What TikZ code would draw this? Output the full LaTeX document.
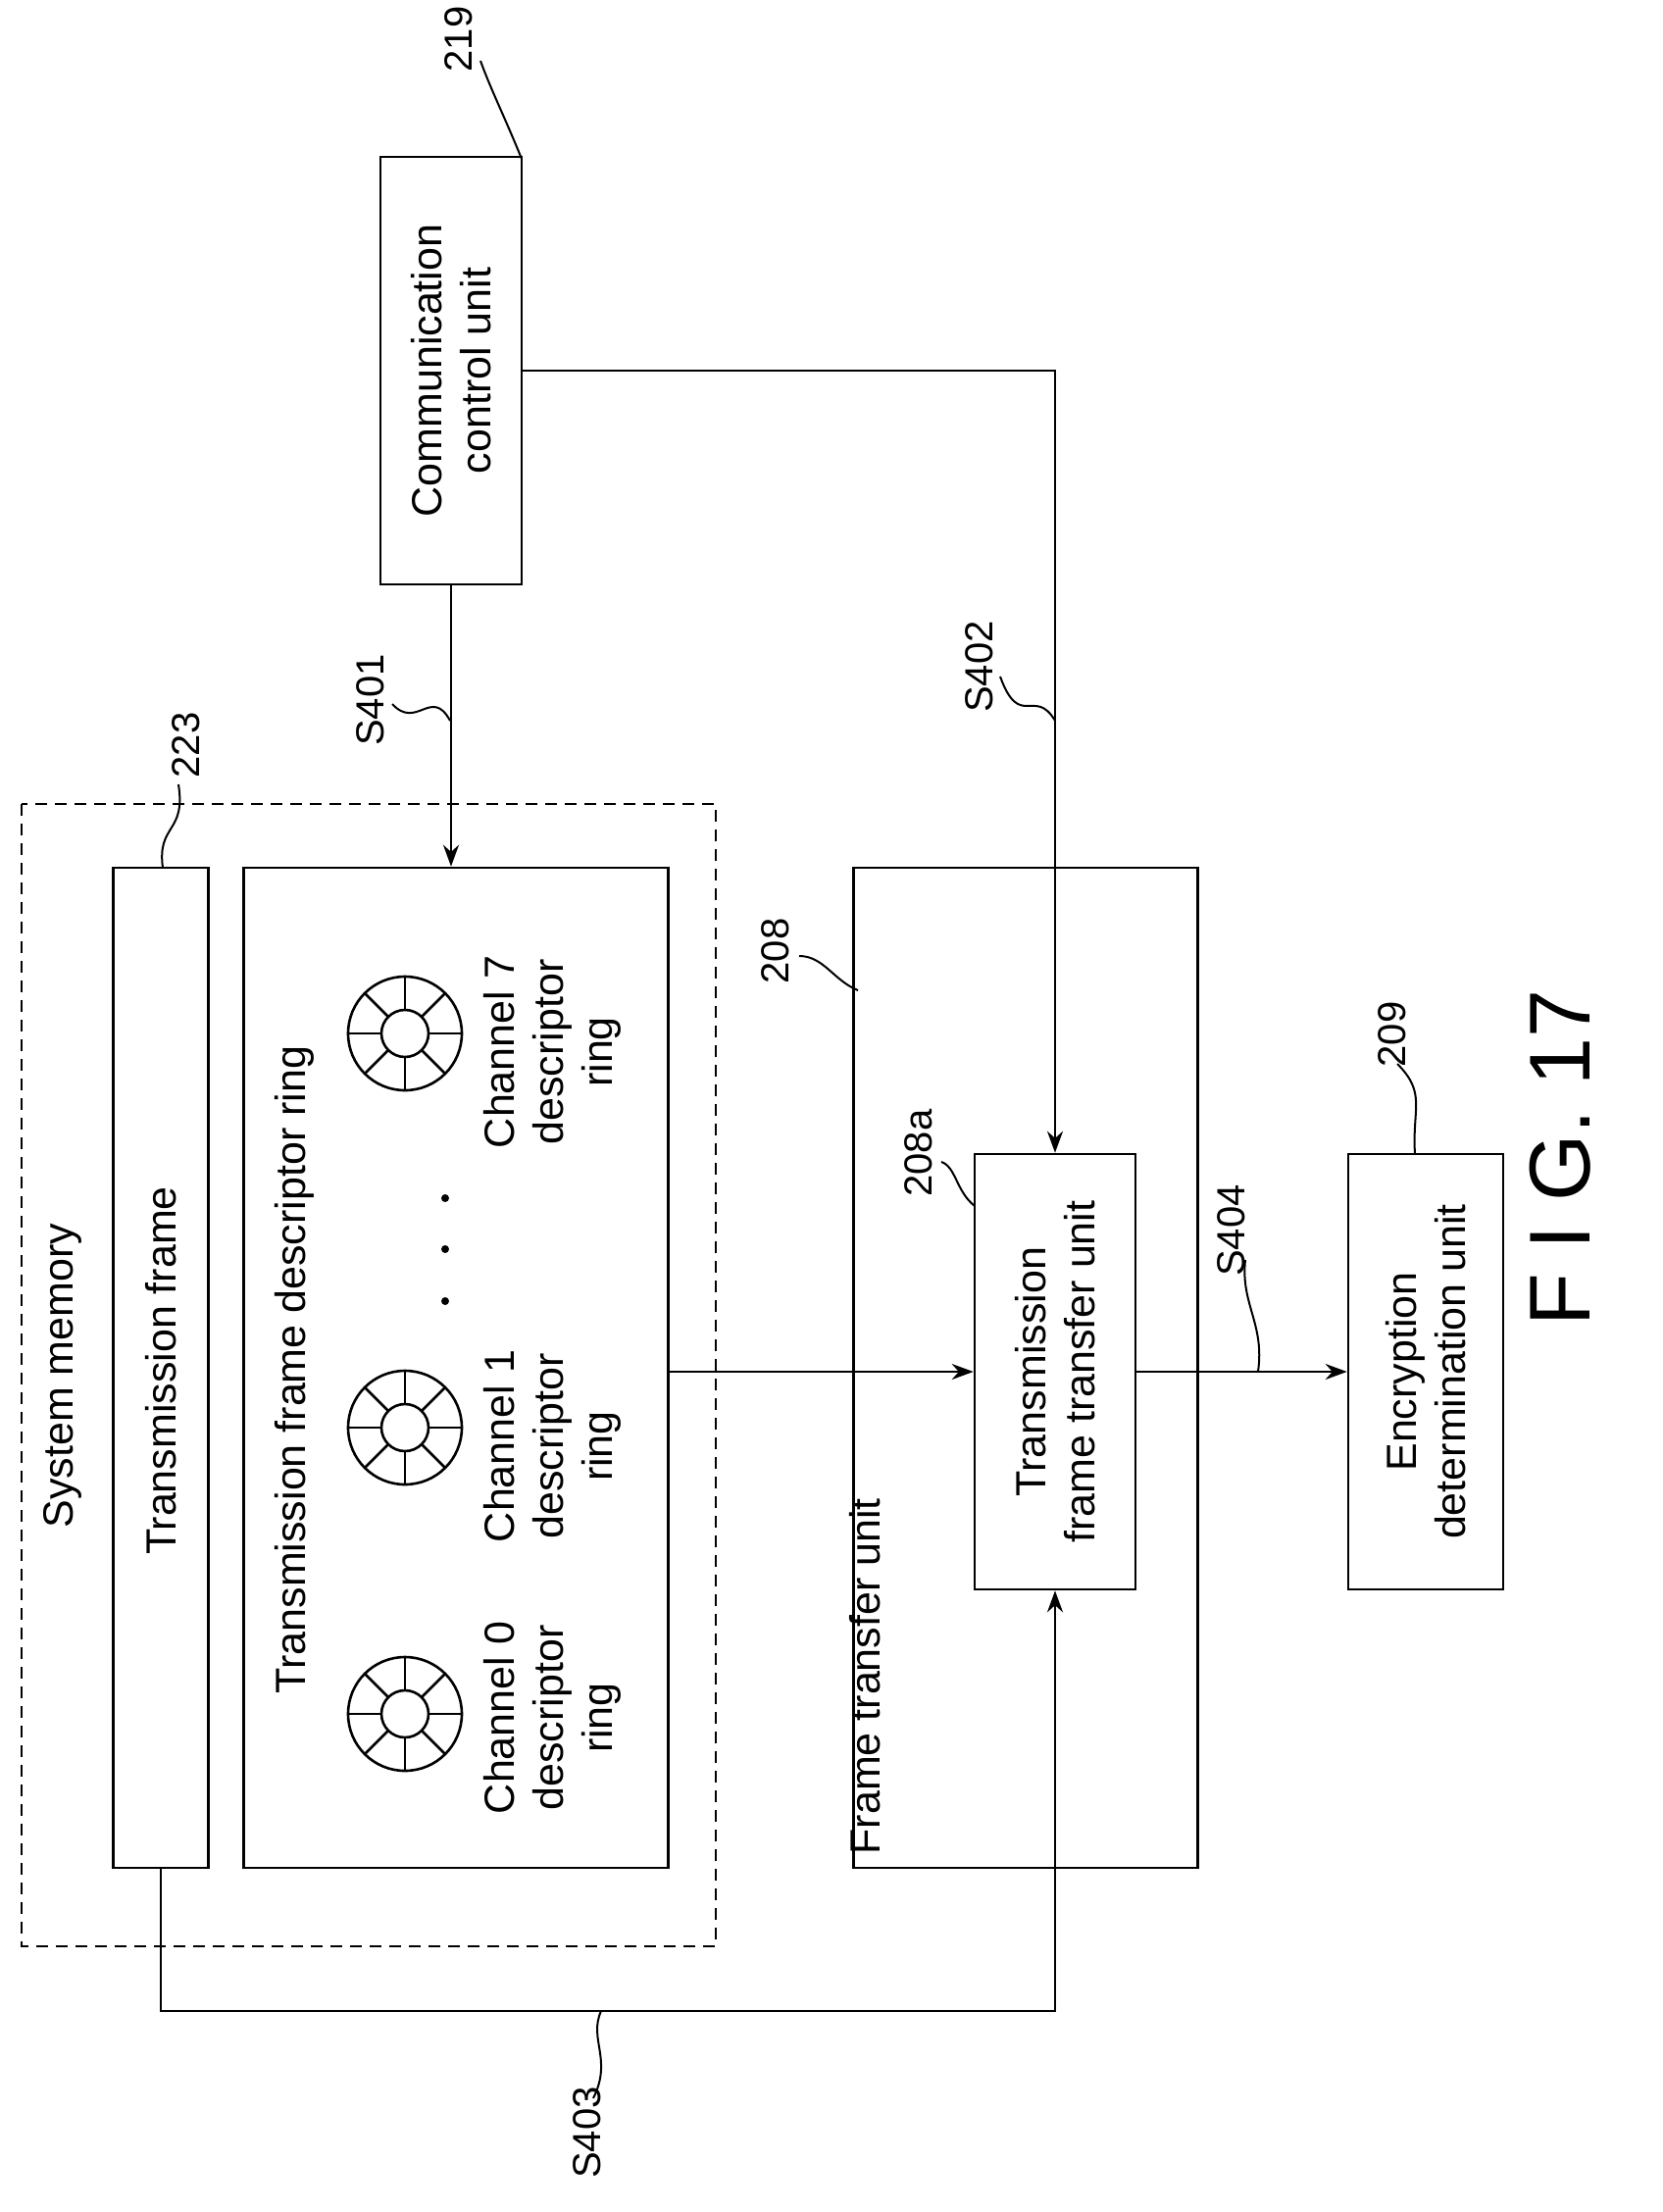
\documentclass[tikz,border=0pt]{standalone}
\usepackage{fontspec}
\setmainfont{Liberation Sans}
\usetikzlibrary{arrows.meta}
\begin{document}
\begin{tikzpicture}[x=1pt,y=-1pt,line width=2.6pt,
  box/.style={draw,inner sep=0},
  txt/.style={rotate=90,align=center,font=\fontsize{43}{50}\selectfont},
  lab/.style={rotate=90,font=\fontsize{40}{46}\selectfont,inner sep=0pt},
  arr/.style={-{Stealth[length=22pt,width=16pt]}},
  sq/.style={line width=2pt}]
\useasboundingbox (0,0) rectangle (1695,2256);
% boxes
\draw[dash pattern=on 12pt off 8pt] (22,820) rectangle (730,1985);
\node[box,minimum width=97pt,minimum height=1020pt] (tf) at (164,1395) {};
\node[box,minimum width=433pt,minimum height=1020pt] (ring) at (465,1395) {};
\node[box,minimum width=351pt,minimum height=1020pt] (ftu) at (1046,1395) {};
\node[box,minimum width=164pt,minimum height=444pt] (tftu) at (1076,1399) {};
\node[box,minimum width=158pt,minimum height=444pt] (enc) at (1454,1399) {};
\node[box,minimum width=144pt,minimum height=436pt] (cc) at (460,378) {};
% texts
\node[txt] at (64,1403) {System memory};
\node[txt] at (164,1398) {Transmission frame};
\node[txt] at (300,1397) {Transmission frame descriptor ring};
\node[txt,anchor=south west] at (903,1896) {Frame transfer unit};
\node[txt] at (1076,1399) {Transmission\\frame transfer unit};
\node[txt] at (1454,1399) {Encryption\\determination unit};
\node[txt] at (460,378) {Communication\\control unit};
\node[txt] at (563,1752) {Channel 0\\descriptor\\ring};
\node[txt] at (563,1475) {Channel 1\\descriptor\\ring};
\node[txt] at (563,1073) {Channel 7\\descriptor\\ring};
\foreach \yy in {1222,1274,1327} \fill (454,\yy) circle (4pt);
\node[rotate=90,font=\fontsize{88}{96}\selectfont] at (1591,1181) {F I G. 17};
% rings
\foreach \cy in {1748,1456,1054}{
  \draw (413,\cy) circle (58pt);
  \draw (413,\cy) circle (24pt);
  \foreach \a in {0,45,...,315} \draw (413,\cy) ++(\a:24pt) -- ++(\a:34pt);
}
% connectors
\draw[arr] (cc.south) -- (ring.north -| cc.south);
\coordinate (c402) at (1076,378);
\draw[arr] (cc.east |- c402) -- (c402) -- (tftu.north);
\draw[arr] (ring.east |- tftu.west) -- (tftu.west);
\draw[arr] (tftu.east) -- (enc.west);
\coordinate (a) at (164,2051); \coordinate (b) at (1076,2051);
\draw[arr] (tf.south) -- (a) -- (b) -- (tftu.south);
% labels with squiggles
\node[lab] (l219) at (468,40) {219};
\draw[sq] (490,62) .. controls (500,90) and (515,120) .. (532,162);
\node[lab] (l223) at (190,760) {223};
\draw[sq] (166,885) .. controls (160,840) and (190,850) .. (182,800);
\node[lab] (l401) at (378,714) {S401};
\draw[sq] (459,735) .. controls (440,700) and (425,745) .. (400,718);
\node[lab] (l402) at (999,680) {S402};
\draw[sq] (1076,735) .. controls (1055,700) and (1040,745) .. (1020,690);
\node[lab] (l208) at (791,970) {208};
\draw[sq] (875,1010) .. controls (850,1000) and (840,975) .. (815,975);
\node[lab] (l208a) at (937,1176) {208a};
\draw[sq] (994,1230) .. controls (975,1215) and (975,1190) .. (960,1185);
\node[lab] (l404) at (1256,1255) {S404};
\draw[sq] (1283,1399) .. controls (1290,1350) and (1265,1330) .. (1270,1285);
\node[lab] (l209) at (1420,1055) {209};
\draw[sq] (1443,1177) .. controls (1440,1130) and (1455,1115) .. (1425,1085);
\node[lab] (l403) at (599,2175) {S403};
\draw[sq] (613,2051) .. controls (600,2080) and (625,2100) .. (605,2140);
\end{tikzpicture}
\end{document}
